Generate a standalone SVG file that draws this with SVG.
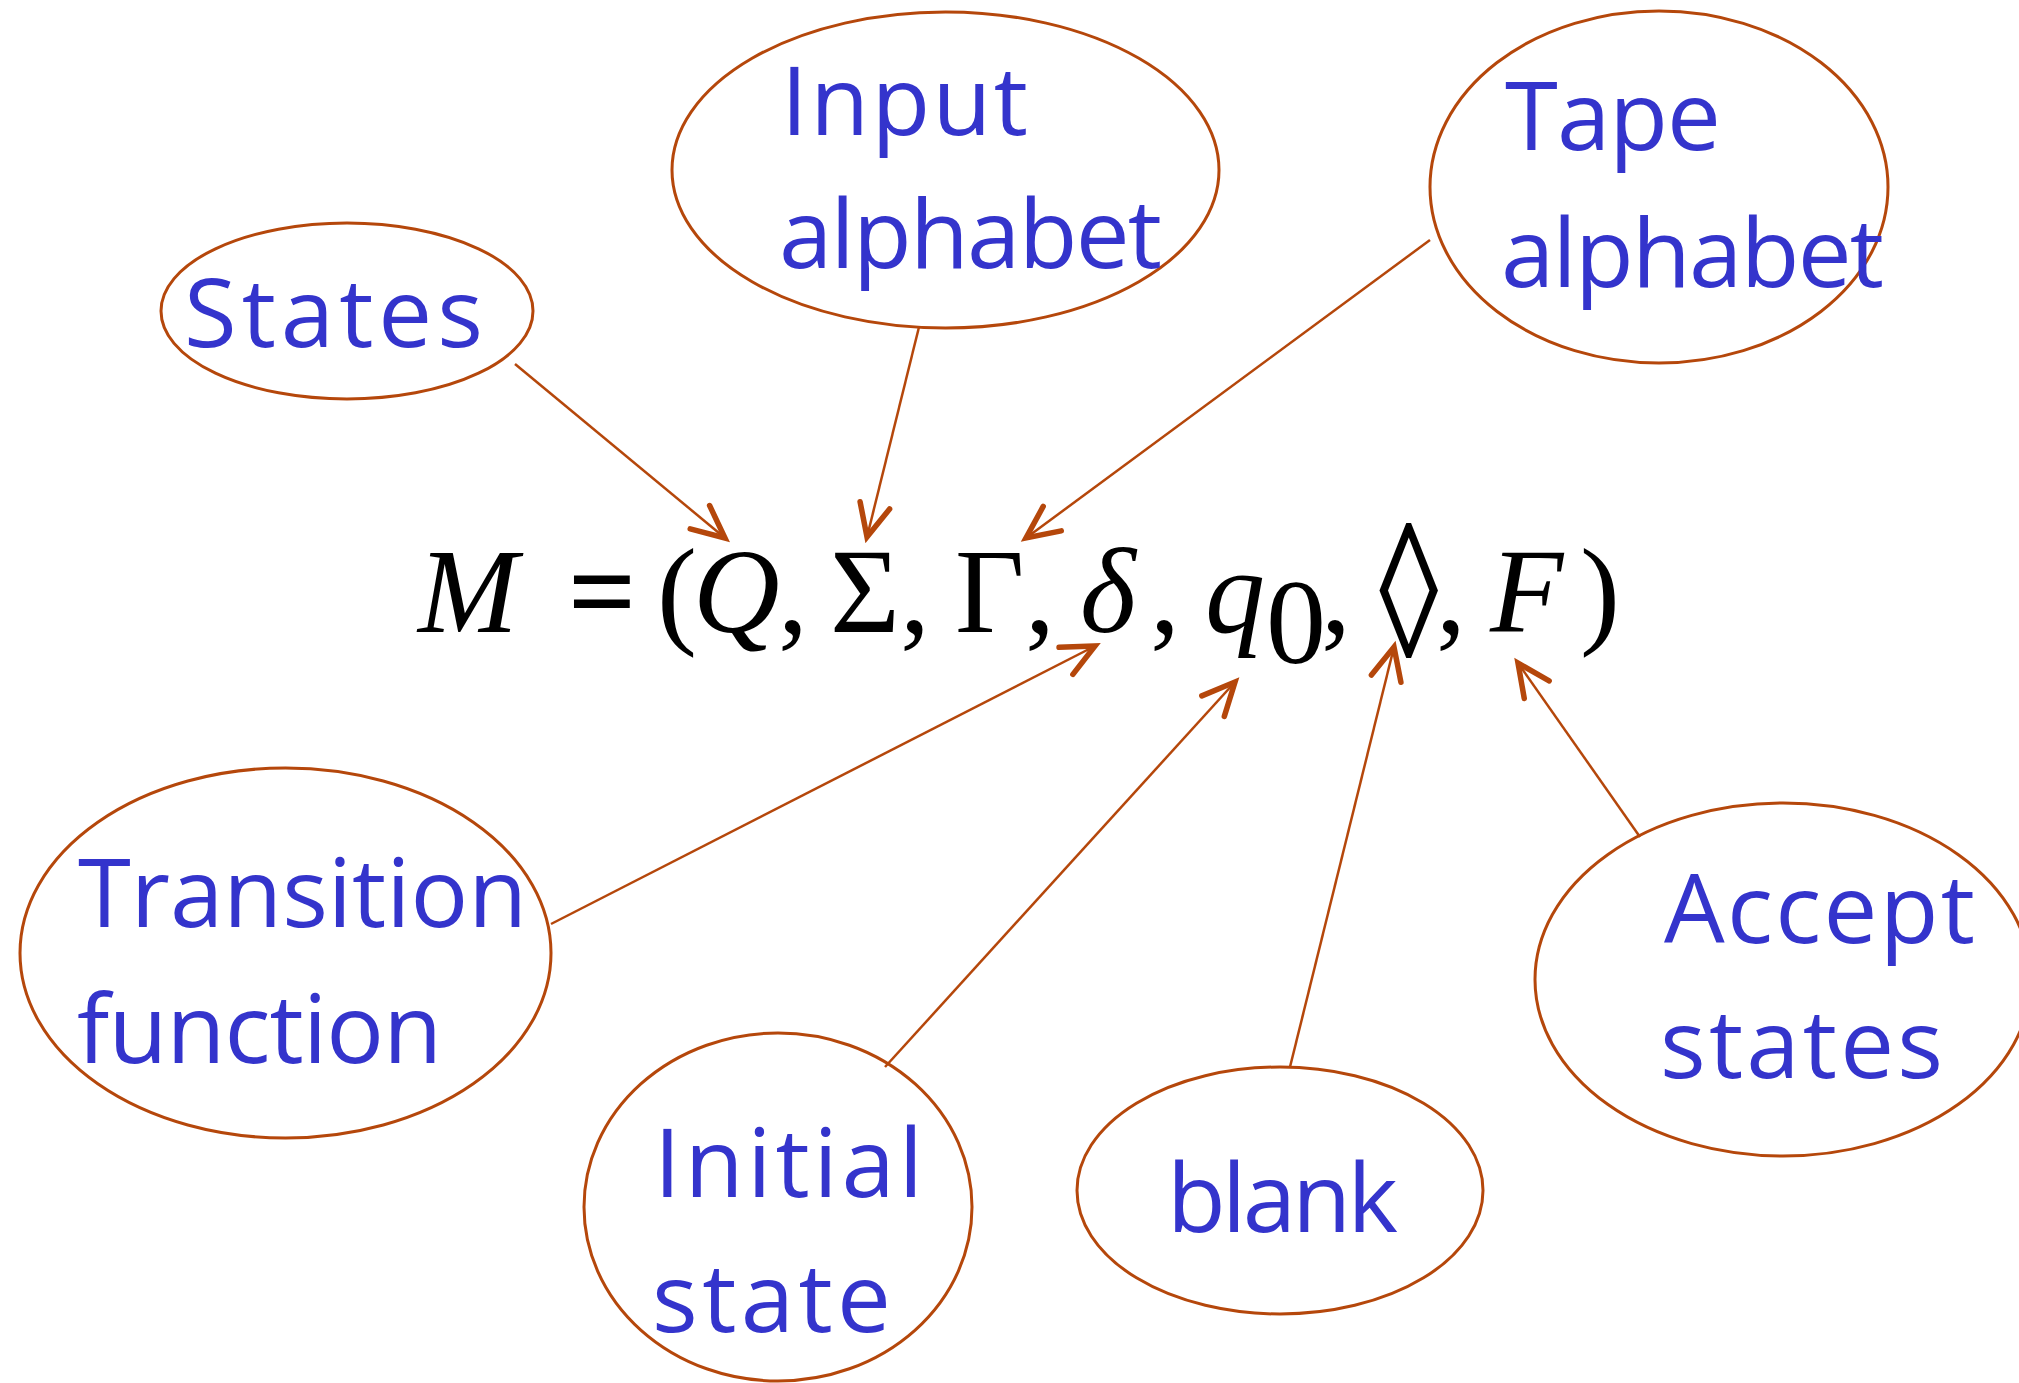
<svg xmlns="http://www.w3.org/2000/svg" width="2019" height="1383" viewBox="0 0 2019 1383">
<defs>
<style>
.node ellipse{fill:none;stroke:#B5470B;stroke-width:3}
.lbl{font-family:"Open Sans","Noto Sans",sans-serif;font-size:96px;fill:#3434CC}
.conn line{stroke:#B5470B;stroke-width:2.5;fill:none}
.f{font-family:"Liberation Serif","Times New Roman",serif;font-size:120px;fill:#000}
.i{font-style:italic}
</style>
<marker id="ah" markerUnits="userSpaceOnUse" viewBox="-40 -20 48 40" refX="0" refY="0" markerWidth="48" markerHeight="40" orient="auto" overflow="visible">
<path d="M-32.6,-15.2 L0,0 L-32.6,15.2" fill="none" stroke="#B5470B" stroke-width="5.5" stroke-linecap="round"/>
</marker>
</defs>
<rect width="2019" height="1383" fill="#fff"/>

<g id="formula" class="f">
<text x="418" y="632" class="f i">M</text>
<text x="568" y="632" class="f" font-weight="bold" font-size="100">=</text>
<text x="657" y="632" class="f">(</text>
<text x="693" y="632" class="f i">Q</text>
<text x="778" y="632" class="f">,</text>
<text x="830" y="632" class="f">Σ</text>
<text x="900" y="632" class="f">,</text>
<text x="955" y="632" class="f">Γ</text>
<text x="1025" y="632" class="f">,</text>
<text x="1080" y="632" class="f i">δ</text>
<text x="1150" y="632" class="f">,</text>
<text x="1205" y="632" class="f i">q</text>
<text x="1266" y="663" class="f" font-size="88">0</text>
<text x="1321" y="632" class="f">,</text>
<text x="1379" y="658" class="f" transform="translate(1379,658) scale(1,1.6) translate(-1379,-658)">◊</text>
<text x="1436" y="632" class="f">,</text>
<text x="1490" y="632" class="f i">F</text>
<text x="1580" y="632" class="f">)</text>
</g>

<g id="connectors" class="conn">
<line x1="515" y1="364" x2="725" y2="538" marker-end="url(#ah)"/>
<line x1="919" y1="327" x2="867" y2="537" marker-end="url(#ah)"/>
<line x1="1430" y1="240" x2="1026" y2="538" marker-end="url(#ah)"/>
<line x1="551" y1="924" x2="1095" y2="646" marker-end="url(#ah)"/>
<line x1="885" y1="1067" x2="1235" y2="682" marker-end="url(#ah)"/>
<line x1="1290" y1="1067" x2="1394" y2="647" marker-end="url(#ah)"/>
<line x1="1640" y1="837" x2="1518" y2="663" marker-end="url(#ah)"/>
</g>

<g id="states" class="node">
<ellipse cx="347" cy="311" rx="186" ry="88"/>
<text class="lbl" x="184" y="347" textLength="299" lengthAdjust="spacing">States</text>
</g>
<g id="input-alphabet" class="node">
<ellipse cx="945.5" cy="170" rx="273.5" ry="158"/>
<text class="lbl" x="781" y="135" textLength="247" lengthAdjust="spacing">Input</text>
<text class="lbl" x="779" y="268" textLength="383" lengthAdjust="spacing">alphabet</text>
</g>
<g id="tape-alphabet" class="node">
<ellipse cx="1659" cy="187" rx="229" ry="176"/>
<text class="lbl" x="1505" y="150" textLength="216" lengthAdjust="spacing">Tape</text>
<text class="lbl" x="1501" y="287" textLength="383" lengthAdjust="spacing">alphabet</text>
</g>
<g id="transition-function" class="node">
<ellipse cx="285.5" cy="953" rx="265.5" ry="185"/>
<text class="lbl" x="78" y="927" textLength="449" lengthAdjust="spacing">Transition</text>
<text class="lbl" x="77" y="1063" textLength="365" lengthAdjust="spacing">function</text>
</g>
<g id="initial-state" class="node">
<ellipse cx="778" cy="1207" rx="194" ry="174"/>
<text class="lbl" x="654" y="1197" textLength="269" lengthAdjust="spacing">Initial</text>
<text class="lbl" x="652" y="1332" textLength="239" lengthAdjust="spacing">state</text>
</g>
<g id="blank" class="node">
<ellipse cx="1280" cy="1190.5" rx="203" ry="123.5"/>
<text class="lbl" x="1167" y="1232" textLength="231" lengthAdjust="spacing">blank</text>
</g>
<g id="accept-states" class="node">
<ellipse cx="1783" cy="979.5" rx="248" ry="176.5"/>
<text class="lbl" x="1664" y="943" textLength="311" lengthAdjust="spacing">Accept</text>
<text class="lbl" x="1660" y="1078" textLength="283" lengthAdjust="spacing">states</text>
</g>
</svg>
